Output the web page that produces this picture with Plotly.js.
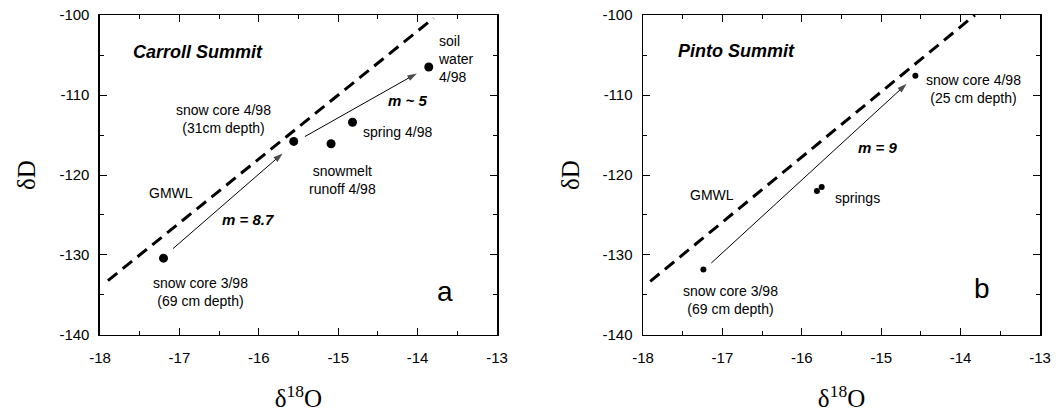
<!DOCTYPE html>
<html>
<head>
<meta charset="utf-8">
<script src="https://cdn.plot.ly/plotly-3.0.1.min.js"></script>
<style>html,body{margin:0;padding:0;background:#fff;}#chart{width:1058px;height:419px;}</style>
</head>
<body>
<div id="chart"></div>
<script>
// Panel a: Carroll Summit
const carrollLabels = ["snow core 3/98", "snow core 4/98", "snowmelt runoff 4/98", "spring 4/98", "soil water 4/98"];
const carrollO18 = [-17.2, -15.56, -15.09, -14.82, -13.86];
const carrollD = [-130.4, -115.8, -116.1, -113.4, -106.5];

// Panel b: Pinto Summit
const pintoLabels = ["snow core 3/98", "snow core 4/98", "spring", "spring"];
const pintoO18 = [-17.24, -14.57, -15.81, -15.75];
const pintoD = [-131.8, -107.6, -122.0, -121.5];

// Global meteoric water line segments as drawn
const gmwlA_O18 = [-17.9, -13.8];
const gmwlA_D = [-133.2, -100.4];
const gmwlB_O18 = [-17.91, -13.82];
const gmwlB_D = [-133.3, -100.0];

// Trend arrows (tail -> head)
const arrowA1_O18 = [-17.08, -15.70];
const arrowA1_D = [-129.2, -117.3];
const arrowA2_O18 = [-15.42, -14.01];
const arrowA2_D = [-115.2, -107.3];
const arrowB1_O18 = [-17.14, -14.68];
const arrowB1_D = [-131.0, -108.6];

const xTicks = [-18, -17, -16, -15, -14, -13];
const yTicks = [-140, -130, -120, -110, -100];

const sans = "Liberation Sans, Arial, Helvetica, sans-serif";
const serif = "Liberation Serif, Times New Roman, serif";

function arrowTrace(xs, ys, xa, ya) {
  return {x: xs, y: ys, mode: "lines+markers", xaxis: xa, yaxis: ya, hoverinfo: "skip",
    line: {color: "#000", width: 1},
    marker: {symbol: ["circle", "arrow"], size: [0, 10], color: "#000", angleref: "previous", line: {width: 0}}};
}

const traces = [
  {x: gmwlA_O18, y: gmwlA_D, mode: "lines", line: {color: "#000", width: 3, dash: "12px,7px"}, xaxis: "x", yaxis: "y", hoverinfo: "skip"},
  arrowTrace(arrowA1_O18, arrowA1_D, "x", "y"),
  arrowTrace(arrowA2_O18, arrowA2_D, "x", "y"),
  {x: carrollO18, y: carrollD, text: carrollLabels, mode: "markers", marker: {color: "#000", size: 9}, xaxis: "x", yaxis: "y"},
  {x: gmwlB_O18, y: gmwlB_D, mode: "lines", line: {color: "#000", width: 3, dash: "12px,7px"}, xaxis: "x2", yaxis: "y2", hoverinfo: "skip"},
  arrowTrace(arrowB1_O18, arrowB1_D, "x2", "y2"),
  {x: pintoO18, y: pintoD, text: pintoLabels, mode: "markers", marker: {color: "#000", size: 6}, xaxis: "x2", yaxis: "y2"}
];

function xax(domain, anchor) {
  return {
    domain: domain, anchor: anchor, range: [-18, -13], tickvals: xTicks, ticktext: xTicks.map(String),
    ticks: "inside", ticklen: 7, tickwidth: 1, tickcolor: "#000",
    minor: {dtick: 0.5, tick0: -18, ticks: "inside", ticklen: 4, tickcolor: "#000"},
    showline: true, linecolor: "#000", linewidth: 1.5, mirror: "allticks",
    showgrid: false, zeroline: false, ticklabelstandoff: 9,
    tickfont: {family: sans, size: 15, color: "#000"},
    title: {text: "δ<sup>18</sup>O", font: {family: serif, size: 25, color: "#000"}, standoff: 24}
  };
}
function yax(domain, anchor) {
  return {
    domain: domain, anchor: anchor, range: [-140, -100], tickvals: yTicks, ticktext: yTicks.map(String),
    ticks: "inside", ticklen: 7, tickwidth: 1, tickcolor: "#000",
    minor: {dtick: 5, tick0: -140, ticks: "inside", ticklen: 4, tickcolor: "#000"},
    showline: true, linecolor: "#000", linewidth: 1.5, mirror: "allticks",
    showgrid: false, zeroline: false, ticklabelstandoff: 6,
    tickfont: {family: sans, size: 15, color: "#000"},
    title: {text: "δD", font: {family: serif, size: 25, color: "#000"}, standoff: 16}
  };
}

function txt(xr, yr, x, y, text, opts) {
  return Object.assign({xref: xr, yref: yr, x: x, y: y, text: text, showarrow: false,
    font: {family: sans, size: 14, color: "#000"}, xanchor: "center", yanchor: "middle", align: "center"}, opts || {});
}

const bi = {family: sans, size: 15, color: "#000", weight: "bold", style: "italic"};
const titleFont = {family: sans, size: 18, color: "#000", weight: "bold", style: "italic"};

const annotations = [
  txt("x", "y", -16.76, -104.6, "Carroll Summit", {font: titleFont}),
  txt("x", "y", -16.44, -113.05, "snow core 4/98<br>(31cm depth)"),
  txt("x", "y", -17.10, -122.2, "GMWL"),
  txt("x", "y", -16.13, -125.6, "m = 8.7", {font: bi}),
  txt("x", "y", -16.73, -134.6, "snow core 3/98<br>(69 cm depth)"),
  txt("x", "y", -14.95, -120.6, "snowmelt<br>runoff 4/98"),
  txt("x", "y", -14.25, -114.6, "spring 4/98"),
  txt("x", "y", -14.13, -110.7, "m ~ 5", {font: bi}),
  txt("x", "y", -13.77, -105.5, "soil<br>water<br>4/98", {xanchor: "left", align: "left"}),
  txt("x", "y", -13.66, -134.6, "a", {font: {family: sans, size: 28, color: "#000"}}),
  txt("x2", "y2", -16.82, -104.5, "Pinto Summit", {font: titleFont}),
  txt("x2", "y2", -13.84, -109.2, "snow core 4/98<br>(25 cm depth)"),
  txt("x2", "y2", -15.05, -116.6, "m = 9", {font: bi}),
  txt("x2", "y2", -17.13, -122.5, "GMWL"),
  txt("x2", "y2", -15.61, -122.9, "springs", {xanchor: "left"}),
  txt("x2", "y2", -16.90, -135.6, "snow core 3/98<br>(69 cm depth)"),
  txt("x2", "y2", -13.73, -134.2, "b", {font: {family: sans, size: 28, color: "#000"}})
];

const layout = {
  width: 1058, height: 419,
  margin: {l: 0, r: 0, t: 0, b: 0},
  paper_bgcolor: "#fff", plot_bgcolor: "#fff",
  showlegend: false,
  xaxis: xax([0.0945, 0.4698], "y"),
  yaxis: yax([0.2005, 0.9642], "x"),
  xaxis2: xax([0.6078, 0.9830], "y2"),
  yaxis2: yax([0.2005, 0.9642], "x2"),
  annotations: annotations
};

Plotly.newPlot("chart", traces, layout, {displayModeBar: false, staticPlot: true});
</script>
</body>
</html>
